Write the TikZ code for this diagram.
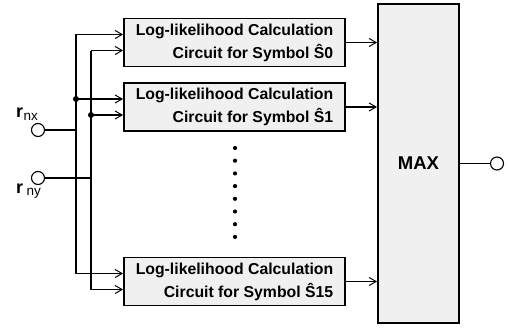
\documentclass[tikz,border=0pt]{standalone}
\usepackage{fontspec}
\setmainfont{Liberation Sans}
\usetikzlibrary{arrows.meta,calc}

\tikzset{
  wire/.style={line width=1.2pt},
  arr/.style={wire,-{Straight Barb[length=7pt,width=8pt,line width=1pt]}},
  llbox/.style={draw,line width=1.8pt,fill=black!6,minimum width=221pt,minimum height=48pt,
    inner sep=0pt,font=\bfseries\fontsize{15.8}{23}\selectfont,align=right},
  maxbox/.style={draw,line width=1.8pt,fill=black!6,minimum width=81pt,minimum height=319pt,
    inner sep=0pt,font=\bfseries\fontsize{18.5}{20}\selectfont},
  port/.style={draw,circle,line width=1.1pt,fill=white,minimum size=13pt,inner sep=0pt},
  busdot/.style={fill=black,circle,minimum size=6pt,inner sep=0pt},
  ddot/.style={fill=black,circle,minimum size=4.2pt,inner sep=0pt},
  inlabel/.style={anchor=base west,inner sep=0pt,font=\bfseries\fontsize{18}{18}\selectfont},
  sublabel/.style={anchor=base west,inner sep=0pt,font=\fontsize{13.5}{13.5}\selectfont}
}

\begin{document}
\begin{tikzpicture}[x=1pt,y=-1pt]
\useasboundingbox (0,0) rectangle (510,329);

% likelihood circuits and the MAX selector
\node[llbox] (b1) at (234.5,42.5) {Log-likelihood Calculation\\Circuit for Symbol Ŝ0};
\node[llbox] (b2) at (234.5,107)  {Log-likelihood Calculation\\Circuit for Symbol Ŝ1};
\node[llbox] (b3) at (234.5,281.5){Log-likelihood Calculation\\Circuit for Symbol Ŝ15};
\node[maxbox] (mx) at (418.5,163.5) {MAX};

% input and output ports
\node[port] (rnx) at (38,130) {};
\node[port] (rny) at (38,178) {};
\node[port] (out) at (497,163.5) {};
\node[inlabel] (lnx) at (16,117) {r};
\node[sublabel] (snx) at (23.5,120.5) {nx};
\node[inlabel] (lny) at (16,193) {r};
\node[sublabel] (sny) at (26.5,195) {ny};

% bus columns
\coordinate (busA) at (76,0);
\coordinate (busB) at (91,0);

% tap points on each circuit
\foreach \b in {1,2,3}{
  \coordinate (\b a) at ([yshift=8pt]b\b.west);
  \coordinate (\b b) at ([yshift=-8pt]b\b.west);
}

% vertical buses
\draw[wire] (1a -| busA) -- (3a -| busA);
\draw[wire] (1b -| busB) -- (3b -| busB);

% ports onto the buses
\draw[wire] (rnx) -- (rnx -| busA);
\draw[wire] (rny) -- (rny -| busB);

% taps into the circuits
\foreach \b in {1,2,3}{
  \draw[arr] (\b a -| busA) -- (\b a);
  \draw[arr] (\b b -| busB) -- (\b b);
}
\node[busdot] (j1) at (2a -| busA) {};
\node[busdot] (j2) at (2b -| busB) {};

% circuit outputs into MAX
\foreach \b in {1,2,3}{
  \draw[arr] (b\b.east) -- (b\b.east -| mx.west);
}
\draw[wire] (mx.east) -- (out);

% vertical ellipsis between the circuits
\foreach \i in {0,...,7}{
  \node[ddot] (d\i) at (235,148+12.7*\i) {};
}
\end{tikzpicture}
\end{document}
